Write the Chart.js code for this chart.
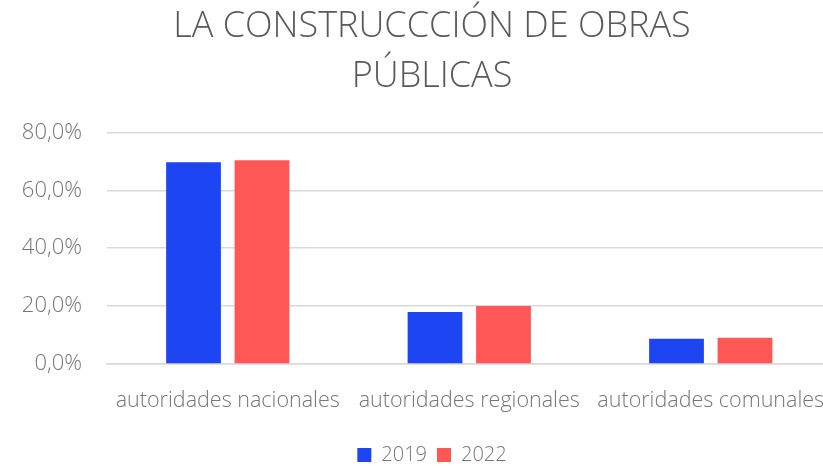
<!DOCTYPE html>
<html>
<head>
<meta charset="utf-8">
<script src="https://cdn.jsdelivr.net/npm/chart.js@4/dist/chart.umd.min.js"></script>
<style>
html,body{margin:0;padding:0;background:#fff;overflow:hidden;}
#wrap{width:823px;height:468px;overflow:hidden;position:relative;}
#c{position:absolute;left:0;top:0;}
</style>
</head>
<body>
<div id="wrap"><canvas id="c" width="864" height="468"></canvas></div>
<script>
const categories = ["autoridades nacionales", "autoridades regionales", "autoridades comunales"];
const seriesNames = ["2019", "2022"];
const values2019 = [69.7, 18.0, 8.7];
const values2022 = [70.4, 20.0, 9.1];
const yTicks = [0, 20, 40, 60, 80];
const titleLines = ["LA CONSTRUCCCIÓN DE OBRAS", "PÚBLICAS"];

const FONT = "'Open Sans', sans-serif";
new Chart(document.getElementById('c'), {
  type: 'bar',
  data: {
    labels: categories,
    datasets: [
      {label: seriesNames[0], data: values2019, backgroundColor: '#1D45F2', borderWidth: 0},
      {label: seriesNames[1], data: values2022, backgroundColor: '#FF5656', borderWidth: 0}
    ]
  },
  options: {
    responsive: false,
    animation: false,
    devicePixelRatio: 1,
    layout: {padding: {left: 0, right: 0, top: 2, bottom: -7}},
    datasets: {bar: {categoryPercentage: 0.567, barPercentage: 0.80}},
    plugins: {
      title: {
        display: true,
        text: titleLines,
        color: '#595959',
        font: {family: FONT, size: 36, weight: '300', lineHeight: 1.38},
        padding: {top: 0, bottom: 31}
      },
      legend: {
        position: 'bottom',
        labels: {
          color: '#767676',
          font: {family: FONT, size: 20, weight: '300'},
          boxWidth: 14, boxHeight: 14, padding: 10
        }
      },
      tooltip: {enabled: false}
    },
    scales: {
      x: {
        afterFit: (s) => { s.paddingLeft = 0; s.paddingRight = 32.5; s.height = 71; },
        grid: {display: false, drawTicks: false},
        border: {display: true, color: '#D9D9D9', width: 1.5},
        ticks: {color: '#767676', font: {family: FONT, size: 21.5, weight: '300'}, padding: 24, maxRotation: 0, autoSkip: false}
      },
      y: {
        min: 0, max: 80,
        afterFit: (s) => { s.width = 107; },
        afterBuildTicks: (s) => { s.ticks = yTicks.map(v => ({value: v})); },
        grid: {color: '#D9D9D9', lineWidth: 1.5, drawTicks: false},
        border: {display: false},
        ticks: {
          color: '#767676', font: {family: FONT, size: 22, weight: '300'}, padding: 25,
          callback: (v) => v.toFixed(1).replace('.', ',') + '%'
        }
      }
    }
  }
});
</script>
</body>
</html>
